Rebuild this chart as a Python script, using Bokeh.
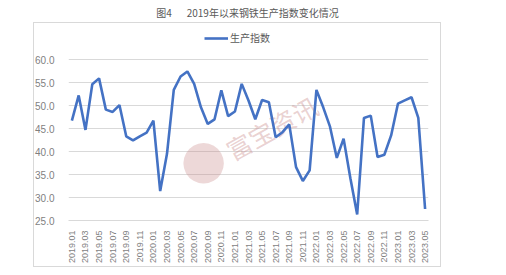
import numpy as np
from bokeh.plotting import figure
from bokeh.models import (ColumnDataSource, FixedTicker, Label, Legend, LegendItem,
                          Range1d, NumeralTickFormatter)
from bokeh.embed import file_html
from bokeh.resources import INLINE

months = [f"{y}.{m:02d}" for y in range(2019, 2024) for m in range(1, 13)][:53]
values = [46.7, 52.2, 44.7, 54.6, 55.9, 49.1, 48.6, 50.1, 43.3, 42.4, 43.3, 44.1,
          46.7, 31.4, 39.5, 53.4, 56.3, 57.4, 54.7, 49.6, 46.0, 47.0, 53.3, 47.7,
          48.7, 54.7, 51.1, 47.0, 51.2, 50.7, 43.1, 44.2, 45.9, 36.6, 33.6, 35.9,
          53.4, 49.6, 45.4, 38.6, 42.8, 34.2, 26.3, 47.3, 47.8, 38.8, 39.3, 43.5,
          50.4, 51.1, 51.8, 47.3, 27.5]
series_name = "生产指数"
title_text = "图4\u3000\u20022019年以来钢铁生产指数变化情况"
watermark_text = "富宝资讯"
y_ticks = [25, 30, 35, 40, 45, 50, 55, 60]

idx = list(range(len(months)))
src = ColumnDataSource(dict(x=idx, y=values, m=months))

border_css = ", ".join([
    "linear-gradient(#d9d9d9,#d9d9d9) 33px 22px / 407px 1px no-repeat",
    "linear-gradient(#d9d9d9,#d9d9d9) 33px 266px / 408px 1px no-repeat",
    "linear-gradient(#d9d9d9,#d9d9d9) 33px 22px / 1px 245px no-repeat",
    "linear-gradient(#d9d9d9,#d9d9d9) 440px 22px / 1px 245px no-repeat",
    "white",
])

# frame spans canvas y 0..220 (top part stays empty); value 60 sits at y=59
FL, FB = 68, 220
y_end = 25 + FB / 4.6


def sx(X):
    return X - FL


def sy(Y):
    return FB - Y


p = figure(width=506, height=275, output_backend="svg", toolbar_location=None,
           x_range=Range1d(-0.5, len(months) - 0.5), y_range=Range1d(25, y_end),
           min_border_left=FL, min_border_right=78, min_border_top=0,
           min_border_bottom=275 - FB)
p.styles = {"background": border_css}
p.outline_line_color = None
p.background_fill_alpha = 0
p.border_fill_alpha = 0

# watermark (logo disc + text)
p.add_layout(Label(x=sx(203), y=sy(158), x_units="screen", y_units="screen",
                   text="●", text_font="DejaVu Sans", text_font_size="53px",
                   text_color="#c98a8a", text_alpha=0.33,
                   text_align="center", text_baseline="middle", level="underlay"))
p.add_layout(Label(x=sx(271), y=sy(127), x_units="screen", y_units="screen",
                   text=watermark_text, text_font="Noto Sans CJK SC",
                   text_font_size="25px", text_color="#c98a8a", text_alpha=0.4,
                   angle=0.51, text_align="center", text_baseline="middle",
                   level="underlay"))

r = p.line("x", "y", source=src, line_color="#4472C4", line_width=2.6)

# axes
p.xaxis.ticker = FixedTicker(ticks=idx[::2])
p.xaxis.major_label_overrides = {i: months[i] for i in idx}
p.xaxis.major_label_orientation = np.pi / 2
p.xaxis.major_label_text_font = "Liberation Sans"
p.xaxis.major_label_text_font_size = "9px"
p.xaxis.major_label_text_color = "#7f7f7f"
p.xaxis.major_tick_line_color = None
p.xaxis.minor_tick_line_color = None
p.xaxis.axis_line_color = "#d9d9d9"
p.xaxis.major_label_standoff = 4

p.yaxis.ticker = FixedTicker(ticks=y_ticks)
p.yaxis.formatter = NumeralTickFormatter(format="0.0")
p.yaxis.major_label_text_font = "Liberation Sans"
p.yaxis.major_label_text_font_size = "10px"
p.yaxis.major_label_text_color = "#7f7f7f"
p.yaxis.major_tick_line_color = None
p.yaxis.minor_tick_line_color = None
p.yaxis.axis_line_color = None
p.yaxis.major_label_standoff = 8

p.xgrid.grid_line_color = None
p.ygrid.ticker = FixedTicker(ticks=y_ticks)
p.ygrid.grid_line_color = "#d9d9d9"
p.ygrid.grid_line_width = 1

# title
p.add_layout(Label(x=sx(247), y=sy(12), x_units="screen", y_units="screen",
                   text=title_text, text_font="Noto Sans CJK SC",
                   text_font_size="10px", text_color="#595959",
                   text_align="center", text_baseline="middle"))

# legend (inside the upper, empty part of the frame)
legend = Legend(items=[LegendItem(label=series_name, renderers=[r])],
                orientation="horizontal", location=(136, 175),
                label_text_font="Noto Sans CJK SC", label_text_font_size="10px",
                label_text_color="#595959", glyph_width=24, glyph_height=14,
                label_standoff=2, padding=2, margin=0, border_line_color=None,
                background_fill_alpha=0)
p.add_layout(legend)

open("out.html", "w").write(file_html(p, INLINE))
